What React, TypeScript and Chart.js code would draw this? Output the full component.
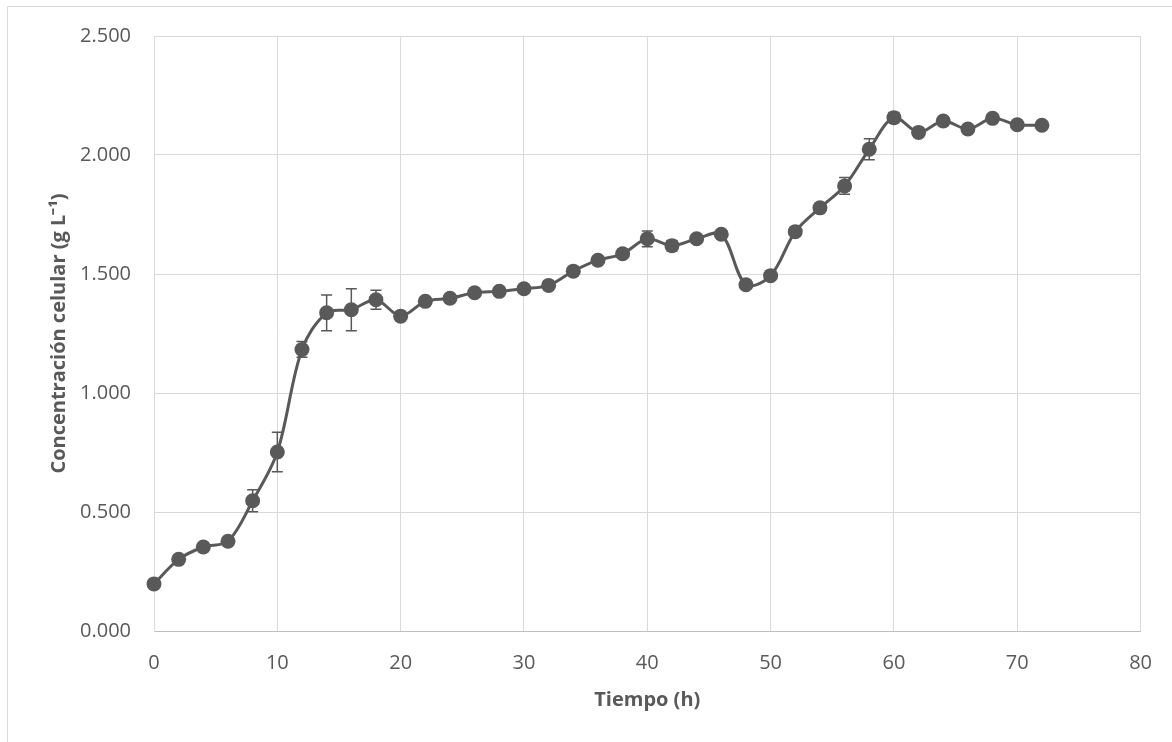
import React, { useEffect, useRef } from "react";
import { Chart, registerables } from "chart.js";

Chart.register(...registerables);

// ---- Data ----
const timeHours = [
  0, 2, 4, 6, 8, 10, 12, 14, 16, 18, 20, 22, 24, 26, 28, 30, 32, 34, 36,
  38, 40, 42, 44, 46, 48, 50, 52, 54, 56, 58, 60, 62, 64, 66, 68, 70, 72,
];
const cellConcentration = [
  0.198, 0.301, 0.353, 0.377, 0.547, 0.752, 1.183, 1.337, 1.35, 1.392,
  1.323, 1.385, 1.398, 1.421, 1.427, 1.438, 1.452, 1.512, 1.558, 1.585,
  1.648, 1.619, 1.648, 1.667, 1.455, 1.493, 1.678, 1.778, 1.87, 2.024,
  2.157, 2.095, 2.143, 2.109, 2.154, 2.127, 2.125,
];
const concentrationError = [
  0, 0, 0, 0, 0.046, 0.083, 0.033, 0.075, 0.088, 0.04,
  0.01, 0.008, 0.008, 0.008, 0.008, 0.008, 0.01, 0.01, 0.01, 0.018,
  0.033, 0.022, 0.01, 0.01, 0.012, 0.012, 0.01, 0.01, 0.035, 0.044,
  0.022, 0.01, 0.008, 0.01, 0.01, 0.01, 0.008,
];
const xRange = [0, 80];
const xStep = 10;
const yRange = [0, 2.5];
const yStep = 0.5;
const xAxisTitle = "Tiempo (h)";
const yAxisTitle = "Concentración celular (g L⁻¹)";

const GREY = "#595959";
const GRID = "#d9d9d9";
const FONT = "'Open Sans', 'Liberation Sans', sans-serif";

const framePlugin = {
  id: "frame",
  beforeDraw(chart: any) {
    const { ctx, width, height } = chart;
    ctx.save();
    ctx.fillStyle = "#ffffff";
    ctx.fillRect(0, 0, width, height);
    ctx.strokeStyle = GRID;
    ctx.lineWidth = 1;
    ctx.beginPath();
    ctx.moveTo(7.5, height);
    ctx.lineTo(7.5, 6.5);
    ctx.lineTo(width, 6.5);
    ctx.stroke();
    ctx.restore();
  },
};

const errorBarPlugin = {
  id: "errorBars",
  beforeDatasetsDraw(chart: any) {
    const { ctx } = chart;
    const x = chart.scales.x;
    const y = chart.scales.y;
    ctx.save();
    ctx.strokeStyle = GREY;
    ctx.lineWidth = 1.5;
    timeHours.forEach((t, i) => {
      const e = concentrationError[i];
      if (!e) return;
      const px = x.getPixelForValue(t);
      const top = y.getPixelForValue(cellConcentration[i] + e);
      const bot = y.getPixelForValue(cellConcentration[i] - e);
      ctx.beginPath();
      ctx.moveTo(px, top);
      ctx.lineTo(px, bot);
      ctx.moveTo(px - 5.5, top);
      ctx.lineTo(px + 5.5, top);
      ctx.moveTo(px - 5.5, bot);
      ctx.lineTo(px + 5.5, bot);
      ctx.stroke();
    });
    ctx.restore();
  },
};

export default function App() {
  const canvasRef = useRef<HTMLCanvasElement | null>(null);

  useEffect(() => {
    const canvas = canvasRef.current;
    if (!canvas) return;
    const chart = new Chart(canvas, {
      type: "line",
      data: {
        datasets: [
          {
            data: timeHours.map((t, i) => ({ x: t, y: cellConcentration[i] })),
            borderColor: GREY,
            backgroundColor: GREY,
            borderWidth: 3,
            pointRadius: 7.5,
            pointBorderWidth: 0,
            pointBackgroundColor: GREY,
            tension: 0.33,
            clip: false as any,
          },
        ],
      },
      options: {
        animation: false,
        responsive: false,
        devicePixelRatio: 1,
        layout: { padding: { top: 36, right: 31, bottom: 0, left: 0 } },
        plugins: {
          legend: { display: false },
          tooltip: { enabled: false },
        },
        scales: {
          x: {
            type: "linear",
            min: xRange[0],
            max: xRange[1],
            ticks: {
              stepSize: xStep,
              color: GREY,
              font: { family: FONT, size: 20 },
              padding: 20,
            },
            grid: { color: GRID, drawTicks: false },
            border: { color: "#bfbfbf", width: 1 },
            title: {
              display: true,
              text: xAxisTitle,
              color: GREY,
              font: { family: FONT, size: 20, weight: "bold" },
              padding: { top: 0, bottom: 30 },
            },
            afterFit(scale: any) {
              scale.height = 111;
            },
          },
          y: {
            min: yRange[0],
            max: yRange[1],
            ticks: {
              stepSize: yStep,
              color: GREY,
              font: { family: FONT, size: 20 },
              padding: 23,
              callback: (v: any) => Number(v).toFixed(3),
            },
            grid: { color: GRID, drawTicks: false },
            border: { color: GRID, width: 1 },
            title: {
              display: true,
              text: yAxisTitle,
              color: GREY,
              font: { family: FONT, size: 20, weight: "bold" },
              padding: { top: 47, bottom: 0 },
            },
            afterFit(scale: any) {
              scale.width = 154;
            },
          },
        },
      },
      plugins: [framePlugin, errorBarPlugin],
    });
    return () => chart.destroy();
  }, []);

  return (
    <div style={{ position: "absolute", left: 0, top: 0, width: 1172, height: 742 }}>
      <canvas ref={canvasRef} width={1172} height={742} style={{ width: 1172, height: 742 }} />
    </div>
  );
}
